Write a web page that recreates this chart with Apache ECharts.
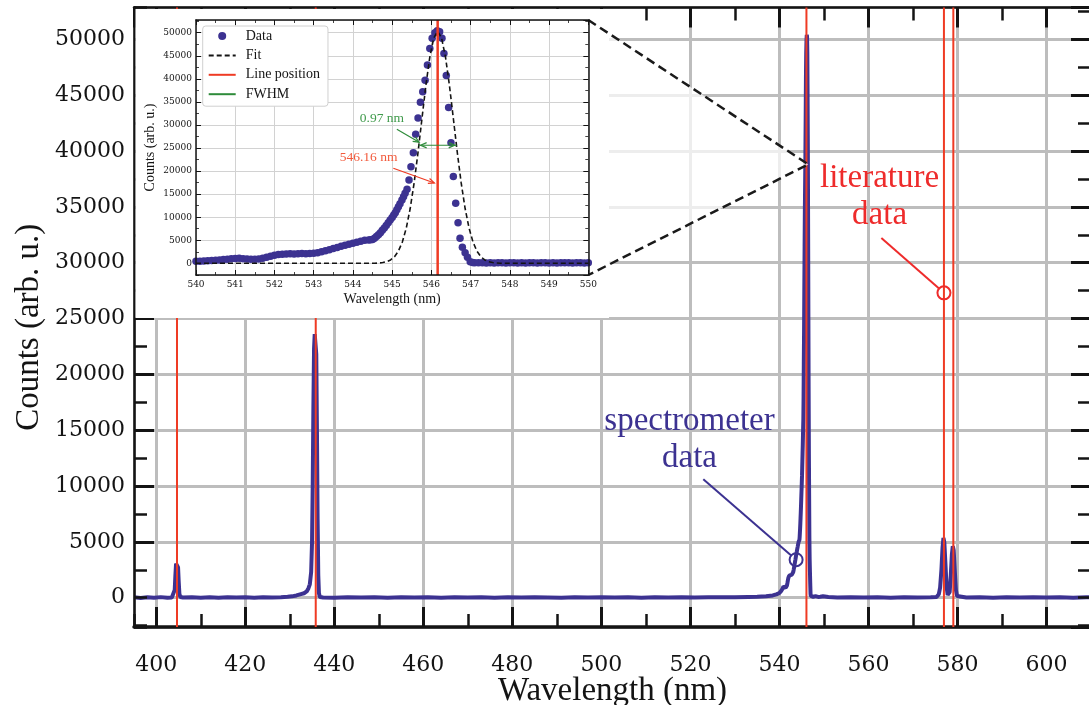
<!DOCTYPE html>
<html>
<head>
<meta charset="utf-8">
<script src="https://cdn.jsdelivr.net/npm/echarts@6/dist/echarts.min.js"></script>
<style>
  html, body { margin: 0; padding: 0; background: #ffffff; }
  #chart { width: 1089px; height: 705px; }
</style>
</head>
<body>
<div id="chart"></div>
<script>
// ---------------- data ----------------
// Hg emission lines from the literature (nm)
const literatureLines = [404.66, 435.83, 546.07, 576.96, 579.07];

// Spectrometer counts, [wavelength nm, counts]
const baselineA = [[395, 30], [396.5, -20], [398, 40], [399.5, 0], [401, 50], [402.5, -10], [403.5, 20]];
const peak405 = [[403.9, 30], [404.15, 700], [404.3, 2000], [404.45, 3050], [404.6, 3200], [404.75, 3200],
  [404.9, 2700], [405.05, 1400], [405.2, 350], [405.4, 60]];
const baselineB = [[406, 10], [408, 40], [410, -10], [412, 30], [414, 0], [416, 40], [418, 10], [420, 30],
  [422, -10], [424, 40], [426, 20], [428, 50], [429.5, 80]];
const peak436 = [[430.5, 120], [431.5, 200], [432.5, 320], [433.2, 400], [433.8, 560], [434.2, 850],
  [434.5, 1200], [434.8, 2300], [435.0, 5000], [435.15, 10000], [435.3, 17000], [435.45, 22300],
  [435.6, 23600], [435.8, 23600], [435.95, 21800], [436.1, 15000], [436.25, 7000], [436.4, 2000],
  [436.55, 400], [436.75, 60]];
const baselineC = [[437.5, 20], [440, 0], [443, 40], [446, 10], [449, 40], [452, 0], [455, 30], [458, 10],
  [461, 40], [464, 0], [467, 30], [470, 20], [473, 40], [476, 0], [479, 30], [482, 10], [485, 40],
  [488, 20], [491, 0], [494, 40], [497, 20], [500, 30], [503, 10], [506, 40], [509, 0], [512, 30],
  [515, 20], [518, 40], [521, 10], [524, 30], [527, 50], [530, 30], [533, 60], [535, 80], [537, 120],
  [538.5, 200], [539.3, 300]];
// 540–550 nm, also shown point by point in the zoomed panel
const greenLineData = [
  [540.0, 420], [540.1, 470], [540.2, 520], [540.3, 560], [540.4, 610], [540.5, 660], [540.6, 720],
  [540.7, 800], [540.8, 900], [540.9, 990], [541.0, 1050], [541.1, 1070], [541.2, 1010], [541.3, 950],
  [541.4, 900], [541.5, 880], [541.6, 940], [541.7, 1100], [541.8, 1320], [541.9, 1550], [542.0, 1760],
  [542.1, 1900], [542.2, 1980], [542.3, 2010], [542.4, 2050], [542.5, 2030], [542.6, 2080], [542.7, 2100],
  [542.8, 2070], [542.9, 2110], [543.0, 2160], [543.1, 2300], [543.2, 2500], [543.3, 2720], [543.4, 2950],
  [543.5, 3200], [543.6, 3420], [543.7, 3680], [543.8, 3900], [543.9, 4120], [544.0, 4350], [544.1, 4560],
  [544.2, 4780], [544.3, 4980], [544.4, 5050], [544.45, 5100], [544.5, 5180], [544.55, 5450], [544.6, 5820],
  [544.65, 6200], [544.7, 6650], [544.75, 7150], [544.8, 7650], [544.85, 8200], [544.9, 8800], [544.95, 9400],
  [545.0, 9950], [545.04, 10450], [545.08, 10950], [545.12, 11600], [545.16, 12250], [545.2, 12900],
  [545.25, 13700], [545.29, 14450], [545.33, 15200], [545.38, 16050], [545.43, 18060], [545.48, 20950],
  [545.54, 23980], [545.6, 28000], [545.66, 31500], [545.72, 34900], [545.78, 37200], [545.84, 39700],
  [545.9, 43000], [545.96, 46600], [546.02, 48800], [546.09, 50000], [546.15, 50400], [546.21, 50200],
  [546.27, 48800], [546.32, 45500], [546.38, 40700], [546.44, 33800], [546.5, 26150], [546.56, 18800],
  [546.62, 13000], [546.68, 8800], [546.73, 5420], [546.79, 3470], [546.86, 2300], [546.92, 1300],
  [546.99, 350], [547.05, 160], [547.1, 120], [547.2, 100], [547.3, 140], [547.4, 90], [547.5, 120],
  [547.6, 80], [547.7, 130], [547.8, 100], [547.9, 70], [548.0, 110], [548.1, 140], [548.2, 90],
  [548.3, 120], [548.4, 80], [548.5, 130], [548.6, 100], [548.7, 70], [548.8, 120], [548.9, 140],
  [549.0, 90], [549.1, 110], [549.2, 80], [549.3, 130], [549.4, 100], [549.5, 120], [549.6, 70],
  [549.7, 110], [549.8, 130], [549.9, 90], [550.0, 100]];
const baselineD = [[551, 60], [553, 20], [556, 40], [559, 10], [562, 30], [565, 0], [568, 40], [571, 20],
  [574, 30], [575.3, 60]];
const peakYellow = [[575.8, 300], [576.1, 900], [576.4, 2500], [576.65, 4500], [576.85, 5350], [577.05, 4950],
  [577.3, 3000], [577.55, 1000], [577.8, 250], [578.0, 150], [578.25, 500], [578.5, 2000], [578.75, 3900],
  [578.95, 4600], [579.15, 4250], [579.4, 2400], [579.65, 700], [579.9, 150], [580.2, 40]];
const baselineE = [[582, 20], [585, 40], [588, 0], [591, 30], [594, 10], [597, 40], [600, 20], [603, 30],
  [606, 0], [609, 40], [610, 20]];

// Gaussian fit of the 546 nm line, sampled [wavelength nm, counts]
const fitCurve = [[540, 0], [544.2, 0], [544.56, 20], [544.66, 70], [544.76, 160], [544.86, 350],
  [544.96, 720], [545.06, 1430], [545.16, 2650], [545.26, 4630], [545.36, 7640], [545.46, 11880],
  [545.56, 17420], [545.66, 24080], [545.76, 31400], [545.86, 38590], [545.96, 44710], [546.06, 48840],
  [546.16, 50300], [546.26, 48840], [546.36, 44710], [546.46, 38590], [546.56, 31400], [546.66, 24080],
  [546.76, 17420], [546.86, 11880], [546.96, 7640], [547.06, 4630], [547.16, 2650], [547.26, 1430],
  [547.36, 720], [547.46, 350], [547.56, 160], [547.66, 70], [547.76, 20], [548.1, 0], [550, 0]];

const linePosition = 546.16;   // nm, fitted line centre
const fwhm = 0.97;             // nm
const fwhmLevel = 25600;       // counts, height of the FWHM marker

// axis ranges and ticks
const mainX = [395, 610], mainY = [-2625, 52850];
const insetX = [540, 550], insetY = [-2537, 52753];
const mainXStep = 20, mainXMinor = 10, yStep = 5000, yMinor = 2500, insetXStep = 1;

// ---------------- look ----------------
const BLUE = '#3c3291', RED = '#ef3b24', GREEN = '#2e8b3a', INK = '#141414';
const GRIDC = '#bdbdbd', INSET_GRIDC = '#d2d2d2';
const MAIN_GRID = { left: 134, top: 7.5, width: 957, height: 619.5 };
const INSET_GRID = { left: 196, top: 20, width: 392.3, height: 255 };
const INSET_BOX = { x: 135.5, y: 9, width: 473.5, height: 309 };
const fmt = v => String(v);

const mainSpectrum = [].concat(baselineA, peak405, baselineB, peak436, baselineC, greenLineData,
  baselineD, peakYellow, baselineE).sort((a, b) => a[0] - b[0]);

function axis(extra) {
  return Object.assign({
    type: 'value',
    nameMoveOverlap: false,
    axisLine: { show: false, onZero: false },
    axisTick: { show: false },
    axisLabel: { show: false },
    splitLine: { show: false },
    minorTick: { show: false },
    minorSplitLine: { show: false }
  }, extra);
}
const spine = w => ({ show: true, onZero: false, lineStyle: { color: INK, width: w } });
const ticks = (len, w) => ({ show: true, inside: true, length: len, lineStyle: { color: INK, width: w } });

const xAxis = [
  // main panel: major ticks, labels, grid
  axis({ gridIndex: 0, position: 'bottom', min: mainX[0], max: mainX[1], minInterval: mainXStep, maxInterval: mainXStep, z: 1,
    axisTick: ticks(20, 3),
    axisLabel: { show: true, margin: 27, color: INK, fontFamily: 'DejaVu Serif', fontSize: 22,
      showMinLabel: false, showMaxLabel: false, formatter: fmt },
    splitLine: { show: true, lineStyle: { color: GRIDC, width: 3 } },
    name: 'Wavelength (nm)', nameLocation: 'middle', nameGap: 48,
    nameTextStyle: { fontFamily: 'Liberation Serif', fontSize: 33, color: INK } }),
  axis({ gridIndex: 0, position: 'top', min: mainX[0], max: mainX[1], minInterval: mainXStep, maxInterval: mainXStep, z: 1,
    axisTick: ticks(20, 3) }),
  // main panel: minor ticks and frame
  axis({ gridIndex: 1, position: 'bottom', min: mainX[0], max: mainX[1], minInterval: mainXMinor, maxInterval: mainXMinor, z: 3,
    axisLine: spine(3.5), axisTick: ticks(13, 2.5) }),
  axis({ gridIndex: 1, position: 'top', min: mainX[0], max: mainX[1], minInterval: mainXMinor, maxInterval: mainXMinor, z: 3,
    axisLine: spine(2.5), axisTick: ticks(13, 2.5) }),
  // zoomed panel
  axis({ gridIndex: 2, position: 'bottom', min: insetX[0], max: insetX[1], interval: insetXStep, z: 20,
    axisTick: ticks(5, 1), minorTick: { show: true, splitNumber: 2, length: 3, lineStyle: { color: INK, width: 0.8 } },
    axisLabel: { show: true, margin: 5, color: INK, fontFamily: 'DejaVu Serif', fontSize: 9, formatter: fmt },
    splitLine: { show: true, lineStyle: { color: INSET_GRIDC, width: 1 } },
    name: 'Wavelength (nm)', nameLocation: 'middle', nameGap: 17,
    nameTextStyle: { fontFamily: 'Liberation Serif', fontSize: 14, color: INK } }),
  axis({ gridIndex: 2, position: 'top', min: insetX[0], max: insetX[1], interval: insetXStep, z: 20,
    axisTick: ticks(5, 1), minorTick: { show: true, splitNumber: 2, length: 3, lineStyle: { color: INK, width: 0.8 } } }),
  axis({ gridIndex: 3, position: 'bottom', min: insetX[0], max: insetX[1], z: 23, axisLine: spine(1.5) }),
  axis({ gridIndex: 3, position: 'top', min: insetX[0], max: insetX[1], z: 23, axisLine: spine(1.5) })
];

const yAxis = [
  axis({ gridIndex: 0, position: 'left', min: mainY[0], max: mainY[1], minInterval: yStep, maxInterval: yStep, z: 1,
    axisTick: ticks(20, 3),
    axisLabel: { show: true, margin: 9, color: INK, fontFamily: 'DejaVu Serif', fontSize: 22,
      showMinLabel: false, showMaxLabel: false, formatter: fmt },
    splitLine: { show: true, lineStyle: { color: GRIDC, width: 3 } },
    name: 'Counts (arb. u.)', nameLocation: 'middle', nameGap: 88,
    nameTextStyle: { fontFamily: 'Liberation Serif', fontSize: 33, color: INK, padding: [0, 20, 0, 0] } }),
  axis({ gridIndex: 0, position: 'right', min: mainY[0], max: mainY[1], minInterval: yStep, maxInterval: yStep, z: 1,
    axisTick: ticks(20, 3) }),
  axis({ gridIndex: 1, position: 'left', min: mainY[0], max: mainY[1], minInterval: yMinor, maxInterval: yMinor, z: 3,
    axisLine: spine(2.5), axisTick: ticks(13, 2.5) }),
  axis({ gridIndex: 1, position: 'right', min: mainY[0], max: mainY[1], minInterval: yMinor, maxInterval: yMinor, z: 3,
    axisLine: spine(2.5), axisTick: ticks(13, 2.5) }),
  axis({ gridIndex: 2, position: 'left', min: insetY[0], max: insetY[1], minInterval: yStep, maxInterval: yStep, z: 20,
    axisTick: ticks(5, 1),
    axisLabel: { show: true, margin: 4, color: INK, fontFamily: 'DejaVu Serif', fontSize: 9,
      showMinLabel: false, showMaxLabel: false, formatter: fmt },
    splitLine: { show: true, lineStyle: { color: INSET_GRIDC, width: 1 } },
    name: 'Counts (arb. u.)', nameLocation: 'middle', nameGap: 39,
    nameTextStyle: { fontFamily: 'Liberation Serif', fontSize: 14, color: INK } }),
  axis({ gridIndex: 2, position: 'right', min: insetY[0], max: insetY[1], minInterval: yStep, maxInterval: yStep, z: 20,
    axisTick: ticks(5, 1) }),
  axis({ gridIndex: 3, position: 'left', min: insetY[0], max: insetY[1], minInterval: yMinor, maxInterval: yMinor, z: 23,
    axisLine: spine(1.5), axisTick: ticks(3, 0.8) }),
  axis({ gridIndex: 3, position: 'right', min: insetY[0], max: insetY[1], minInterval: yMinor, maxInterval: yMinor, z: 23,
    axisLine: spine(1.5), axisTick: ticks(3, 0.8) })
];

const series = [
  { name: 'spectrometer', type: 'line', xAxisIndex: 0, yAxisIndex: 0, data: mainSpectrum, showSymbol: false,
    lineStyle: { color: BLUE, width: 4 }, z: 2, silent: true }
].concat(literatureLines.map(x => ({
  name: 'literature', type: 'line', xAxisIndex: 0, yAxisIndex: 0, showSymbol: false, silent: true, z: 3,
  data: [[x, mainY[0]], [x, mainY[1]]], lineStyle: { color: RED, width: 2 }
}))).concat([
  { name: 'Data', type: 'scatter', xAxisIndex: 4, yAxisIndex: 4, data: greenLineData, symbolSize: 7.5,
    itemStyle: { color: BLUE, opacity: 1 }, z: 21, silent: true },
  { name: 'Fit', type: 'line', xAxisIndex: 4, yAxisIndex: 4, data: fitCurve, showSymbol: false, symbol: 'none',
    lineStyle: { color: INK, width: 1.6, type: [5, 3] }, itemStyle: { color: INK }, z: 22, silent: true },
  { name: 'Line position', type: 'line', xAxisIndex: 4, yAxisIndex: 4, showSymbol: false, symbol: 'none',
    data: [[linePosition, insetY[0]], [linePosition, insetY[1]]],
    lineStyle: { color: RED, width: 2.5 }, itemStyle: { color: RED }, z: 22, silent: true },
  { name: 'FWHM', type: 'line', xAxisIndex: 4, yAxisIndex: 4, showSymbol: false, symbol: 'none',
    data: [[linePosition - fwhm / 2, fwhmLevel], [linePosition + fwhm / 2, fwhmLevel]],
    lineStyle: { color: GREEN, width: 1.2 }, itemStyle: { color: GREEN }, z: 22, silent: true }
]);

const gridOf = rect => Object.assign({ show: false, containLabel: false, outerBoundsMode: 'none' }, rect);
const lineOnly = { opacity: 0 };

const chart = echarts.init(document.getElementById('chart'), null, { renderer: 'canvas' });
chart.setOption({
  animation: false,
  backgroundColor: '#ffffff',
  grid: [gridOf(MAIN_GRID), gridOf(MAIN_GRID), gridOf(INSET_GRID), gridOf(INSET_GRID)],
  xAxis: xAxis,
  yAxis: yAxis,
  legend: {
    data: [
      { name: 'Data', icon: 'circle' },
      { name: 'Fit', itemStyle: lineOnly },
      { name: 'Line position', itemStyle: lineOnly },
      { name: 'FWHM', itemStyle: lineOnly }
    ],
    orient: 'vertical', left: 202.7, top: 26, padding: [2, 8, 4, 5], itemGap: 3.4,
    itemWidth: 27, itemHeight: 8, selectedMode: false, z: 30,
    backgroundColor: '#ffffff', borderColor: '#d0d0d0', borderWidth: 1, borderRadius: 3,
    textStyle: { fontFamily: 'Liberation Serif', fontSize: 14, color: INK, lineHeight: 16, padding: [0, 0, 0, 5] }
  },
  series: series
});

// ---------------- overlays: zoom frame and annotations ----------------
const toMain = p => chart.convertToPixel({ gridIndex: 0 }, p);
const toInset = p => chart.convertToPixel({ gridIndex: 2 }, p);

function arrowHead(tip, from, len, spread, color, width, z) {
  const dx = tip[0] - from[0], dy = tip[1] - from[1];
  const d = Math.hypot(dx, dy), ux = dx / d, uy = dy / d;
  const bx = tip[0] - ux * len, by = tip[1] - uy * len;
  return { type: 'polyline', z: z, silent: true,
    shape: { points: [[bx - uy * spread, by + ux * spread], tip, [bx + uy * spread, by - ux * spread]] },
    style: { fill: 'none', stroke: color, lineWidth: width } };
}
function shrink(a, b, s) {
  const dx = b[0] - a[0], dy = b[1] - a[1], d = Math.hypot(dx, dy);
  return [b[0] - dx / d * s, b[1] - dy / d * s];
}
function arrow(from, to, color, width, z) {
  const tip = shrink(from, to, 1);
  return [
    { type: 'line', z: z, silent: true, shape: { x1: from[0], y1: from[1], x2: tip[0], y2: tip[1] },
      style: { stroke: color, lineWidth: width } },
    arrowHead(tip, from, 6, 2.6, color, width, z)
  ];
}
function label(p, text, color, size, z, lineHeight) {
  return { type: 'text', z: z, silent: true, x: p[0], y: p[1],
    style: { text: text, fill: color, font: size + 'px "Liberation Serif"', lineHeight: lineHeight || size,
      align: 'center', verticalAlign: 'middle', textAlign: 'center', textVerticalAlign: 'middle' } };
}
function callout(textAt, leaderFrom, circleAt, text, color) {
  const t = toMain(textAt), a = toMain(leaderFrom), c = toMain(circleAt);
  const r = 6.5, end = shrink(a, c, r);
  return [
    label(t, text, color, 33, 12, 37),
    { type: 'line', z: 12, silent: true, shape: { x1: a[0], y1: a[1], x2: end[0], y2: end[1] },
      style: { stroke: color, lineWidth: 2 } },
    { type: 'circle', z: 12, silent: true, shape: { cx: c[0], cy: c[1], r: r },
      style: { fill: 'none', stroke: color, lineWidth: 2 } }
  ];
}

const cornerTop = toInset([insetX[1], insetY[1]]);
const cornerBottom = toInset([insetX[1], insetY[0]]);
const apex = toMain([546.5, 38800]);

const fwhmL = toInset([linePosition - fwhm / 2, fwhmLevel]);
const fwhmR = toInset([linePosition + fwhm / 2, fwhmLevel]);

const graphics = [
  { type: 'rect', z: 10, silent: true, shape: INSET_BOX, style: { fill: '#ffffff' } },
  { type: 'polygon', z: 9, silent: true, shape: { points: [cornerTop, apex, cornerBottom] },
    style: { fill: 'rgba(255,255,255,0.72)' } },
  { type: 'polyline', z: 11, silent: true, shape: { points: [cornerTop, apex, cornerBottom] },
    style: { fill: 'none', stroke: '#1a1a1a', lineWidth: 2.5, lineDash: [9, 5] } },
  // FWHM arrow heads
  arrowHead(shrink(fwhmR, fwhmL, 2), fwhmR, 6, 2.6, GREEN, 1.2, 25),
  arrowHead(shrink(fwhmL, fwhmR, 2), fwhmL, 6, 2.6, GREEN, 1.2, 25),
  label(toInset([544.74, 31500]), fwhm.toFixed(2) + ' nm', '#3f9a4b', 13.5, 25),
  label(toInset([544.40, 22980]), linePosition.toFixed(2) + ' nm', '#f25a3c', 13.5, 25)
].concat(
  arrow(toInset([545.12, 29050]), toInset([545.71, 26150]), GREEN, 1.2, 25),
  arrow(toInset([545.03, 20600]), toInset([546.10, 17350]), RED, 1.2, 25),
  callout([562.5, 35880], [562.9, 32200], [literatureLines[3], 27300], 'literature\ndata', '#ee2b2b'),
  callout([519.8, 14120], [522.9, 10600], [543.75, 3400], 'spectrometer\ndata', BLUE)
);

chart.setOption({ graphic: { elements: graphics } });
</script>
</body>
</html>
